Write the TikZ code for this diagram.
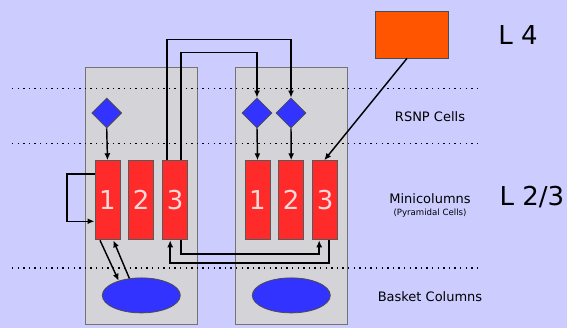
\documentclass[tikz,border=0pt]{standalone}
\usepackage{fontspec}
\setmainfont{DejaVu Sans}
\usetikzlibrary{arrows.meta,shapes.geometric}
\definecolor{bgblue}{HTML}{CCCCFF}
\definecolor{colgray}{HTML}{D4D4D8}
\definecolor{cellred}{HTML}{FF2A2A}
\definecolor{cellblue}{HTML}{3333FF}
\definecolor{inorange}{HTML}{FF5500}
\tikzset{
  column/.style={draw=black!55,fill=colgray,line width=1pt},
  layerline/.style={line width=1.5pt,dash pattern=on 1.3pt off 4.3pt},
  rsnp/.style={diamond,draw=black!70,fill=cellblue,line width=0.8pt,minimum width=30pt,minimum height=30pt,inner sep=0pt},
  minicol/.style={draw=black!65,fill=cellred,line width=1pt,minimum width=25pt,minimum height=79pt,inner sep=0pt,text=red!15,font=\fontsize{26}{26}\selectfont},
  basket/.style={ellipse,draw=black!70,fill=cellblue,line width=0.8pt,minimum width=78pt,minimum height=35pt},
  arr/.style={-{Latex[length=7pt,width=6pt]},line width=1.45pt},
  layerlabel/.style={font=\fontsize{13}{15}\selectfont},
  bigl/.style={font=\fontsize{26}{28}\selectfont}
}
\begin{document}
\begin{tikzpicture}[x=1pt,y=1pt]
  \fill[bgblue] (0,0) rectangle (567,328);
  \useasboundingbox (0,0) rectangle (567,328);
  % columns
  \draw[column] (85,3) rectangle (197,260);
  \draw[column] (235.7,3) rectangle (347,260);
  % layer borders
  \foreach \ly in {239.7,184.7,60}
    \draw[layerline] (12,\ly) -- (478,\ly);
  % input
  \node[draw=black!70,fill=inorange,line width=0.8pt,minimum width=73pt,minimum height=47pt] (l4in) at (412,293.5) {};
  % RSNP cells
  \node[rsnp] (ld) at (106.7,215) {};
  \node[rsnp] (rd1) at (257,215) {};
  \node[rsnp] (rd2) at (291,215) {};
  % minicolumns
  \node[minicol] (lb1) at (107.5,127.7) {1};
  \node[minicol] (lb2) at (141.2,127.7) {2};
  \node[minicol] (lb3) at (175.2,127.7) {3};
  \node[minicol] (rb1) at (257.5,127.7) {1};
  \node[minicol] (rb2) at (291.2,127.7) {2};
  \node[minicol] (rb3) at (325.2,127.7) {3};
  % basket cells
  \node[basket] (le) at (141.3,32.6) {};
  \node[basket] (re) at (291.3,32.6) {};
  % labels
  \node[bigl] (tl4) at (518,293) {L 4};
  \node[bigl] (tl23) at (532,131) {L 2/3};
  \node[layerlabel] (trsnp) at (430,211) {RSNP Cells};
  \node[layerlabel] (tmini) at (430,129.5) {Minicolumns};
  \node[font=\fontsize{8.6}{10}\selectfont] (tpyr) at (430,115.3) {(Pyramidal Cells)};
  \node[layerlabel] (tbask) at (430,31) {Basket Columns};
  % connections
  \draw[arr] (ld.south) -- (lb1.north);
  \draw[arr] (rd1.south) -- (rb1.north);
  \draw[arr] (rd2.south) -- (rb2.north);
  \draw[arr] ([xshift=-8pt]lb3.north) -- ++(0,120.8) -| (rd2.north);
  \draw[arr] ([xshift=6pt]lb3.north) -- ++(0,107.8) -| (rd1.north);
  \draw[arr] ([xshift=-5pt]l4in.south) -- ([xshift=-1pt]rb3.north);
  \draw[arr] ([yshift=26.3pt]lb1.west) -- ++(-27.3,0) |- ([yshift=-21pt]lb1.west);
  \draw[arr] ([xshift=-7.5pt]lb1.south) -- (le.147);
  \draw[arr] (le.125) -- ([xshift=5.8pt]lb1.south);
  \draw[arr] ([xshift=4pt]rb3.south) -- ++(0,-22.5) -| ([xshift=-5pt]lb3.south);
  \draw[arr] ([xshift=6pt]lb3.south) -- ++(0,-13.5) -| ([xshift=-6pt]rb3.south);
\end{tikzpicture}
\end{document}
